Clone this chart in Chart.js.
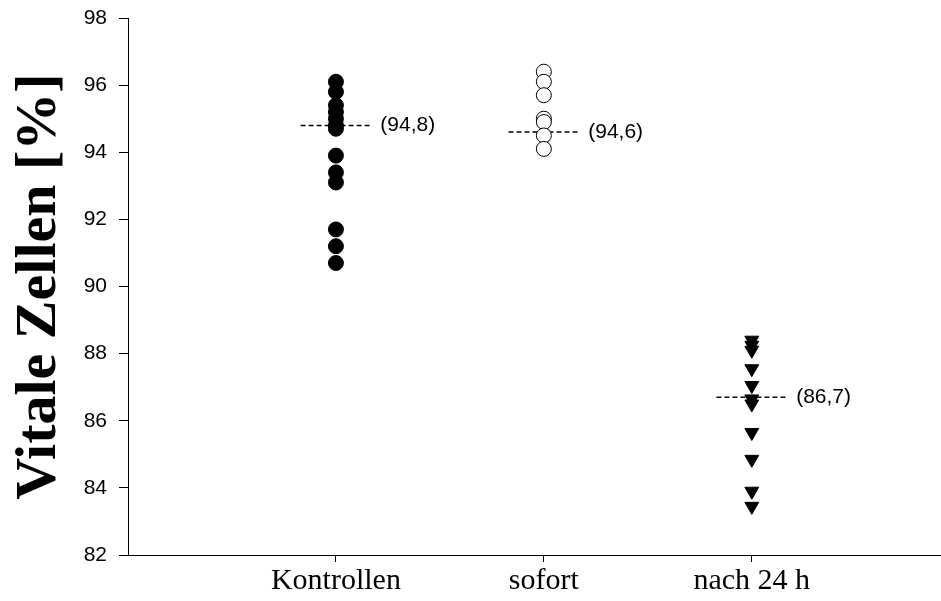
<!DOCTYPE html>
<html>
<head>
<meta charset="utf-8">
<script src="https://cdn.jsdelivr.net/npm/chart.js@4"></script>
<style>
  html, body { margin: 0; padding: 0; background: #fff; overflow: hidden; }
  canvas { display: block; }
</style>
</head>
<body>
<!-- a little wider than the window: Chart.js keeps room for point overflow on the right -->
<canvas id="chart" width="950" height="601"></canvas>
<script>
const groups = ['Kontrollen', 'sofort', 'nach 24 h'];
const kontrollen = [96.1, 95.8, 95.4, 95.2, 95.0, 94.8, 94.7, 93.9, 93.4, 93.1, 91.7, 91.2, 90.7];
const sofort = [96.4, 96.1, 95.7, 95.0, 94.9, 94.5, 94.1];
const nach24h = [88.4, 88.25, 88.1, 87.55, 87.05, 86.65, 86.5, 85.65, 84.85, 83.9, 83.45];
const means = [94.8, 94.6, 86.7];
const yTicks = [82, 84, 86, 88, 90, 92, 94, 96, 98];

const halfLine = 0.17;
const toPts = (vals, i) => vals.map(v => ({ x: i + 1, y: v }));

const meanSets = means.map((m, i) => ({
  type: 'line',
  data: [{ x: i + 1 - halfLine, y: m }, { x: i + 1 + halfLine, y: m }],
  borderColor: '#000',
  borderWidth: 1.5,
  borderDash: [5, 3],
  pointRadius: 0,
  fill: false
}));

// labels like (94,8) right of each mean line
const meanLabels = {
  id: 'meanLabels',
  afterDatasetsDraw(chart) {
    const { ctx, scales: { x, y } } = chart;
    ctx.save();
    ctx.font = '21px "Liberation Sans", Arial, sans-serif';
    ctx.fillStyle = '#000';
    ctx.textBaseline = 'middle';
    means.forEach((m, i) => {
      const txt = '(' + m.toFixed(1).replace('.', ',') + ')';
      ctx.fillText(txt, x.getPixelForValue(i + 1 + halfLine) + 9, y.getPixelForValue(m));
    });
    ctx.restore();
  }
};

new Chart(document.getElementById('chart'), {
  type: 'scatter',
  data: {
    datasets: [
      { data: toPts(kontrollen, 0), pointStyle: 'circle', pointRadius: 7.5, backgroundColor: '#000', borderColor: '#000', borderWidth: 1 },
      { data: toPts(sofort, 1), pointStyle: 'circle', pointRadius: 7.5, backgroundColor: '#fff', borderColor: '#000', borderWidth: 1 },
      { data: toPts(nach24h, 2), pointStyle: 'triangle', rotation: 180, pointRadius: 8, backgroundColor: '#000', borderColor: '#000', borderWidth: 1 },
      ...meanSets
    ]
  },
  options: {
    responsive: false,
    animation: false,
    layout: { padding: { top: 18, right: 0, left: 0, bottom: 0 } },
    plugins: { legend: { display: false }, tooltip: { enabled: false } },
    scales: {
      x: {
        type: 'linear',
        min: 0,
        max: 3.91,
        afterBuildTicks: s => { s.ticks = groups.map((g, i) => ({ value: i + 1 })); },
        afterFit: s => { s.height = 46; s.paddingLeft = 0; s.paddingRight = 0; },
        ticks: {
          callback: (v) => groups[v - 1],
          font: { family: '"Liberation Serif", "Times New Roman", serif', size: 30 },
          color: '#000',
          padding: 1,
          maxRotation: 0
        },
        grid: { drawOnChartArea: false, drawTicks: true, tickLength: 7, color: '#000' },
        border: { color: '#000', width: 1 }
      },
      y: {
        min: 82,
        max: 98,
        afterBuildTicks: s => { s.ticks = yTicks.map(v => ({ value: v })); },
        afterFit: s => { s.width = 128; s.paddingTop = 0; s.paddingBottom = 0; },
        ticks: {
          font: { family: '"Liberation Sans", Arial, sans-serif', size: 21 },
          color: '#000',
          padding: 12
        },
        grid: { drawOnChartArea: false, drawTicks: true, tickLength: 9, color: '#000' },
        border: { color: '#000', width: 1 },
        title: {
          display: true,
          text: 'Vitale Zellen [%]',
          font: { family: '"Liberation Serif", "Times New Roman", serif', size: 58, weight: 'bold' },
          color: '#000',
          padding: { top: 5, bottom: 0 }
        }
      }
    }
  },
  plugins: [meanLabels]
});
</script>
</body>
</html>
